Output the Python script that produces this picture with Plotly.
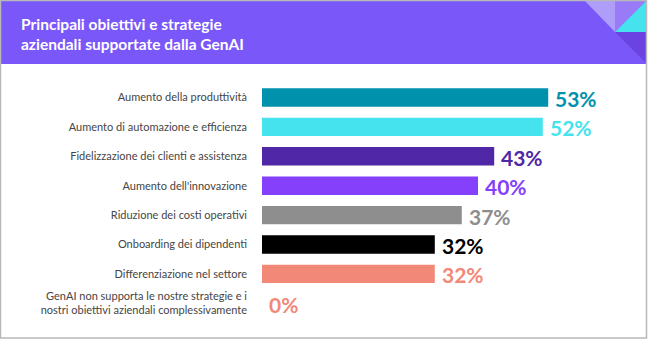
import plotly.graph_objects as go

# Survey results: share of respondents per business objective
categories = [
    "Aumento della produttività",
    "Aumento di automazione e efficienza",
    "Fidelizzazione dei clienti e assistenza",
    "Aumento dell'innovazione",
    "Riduzione dei costi operativi",
    "Onboarding dei dipendenti",
    "Differenziazione nel settore",
    "GenAI non supporta le nostre strategie e i<br>nostri obiettivi aziendali complessivamente",
]
values = [53, 52, 43, 40, 37, 32, 32, 0]
value_labels = ["53%", "52%", "43%", "40%", "37%", "32%", "32%", "0%"]

bar_colors = ["#0091ad", "#45e3ee", "#5027a6", "#8440fa", "#8e8e8e", "#000000", "#f28878", "#f28878"]

W, H = 648, 340
ML, MR, MT, MB = 262, 0, 82, 22
PW, PH = W - ML - MR, H - MT - MB


def px2x(px):
    return (px - ML) / PW


def px2y(py):
    return 1 - (py - MT) / PH


fig = go.Figure(
    go.Bar(
        x=values,
        y=categories,
        orientation="h",
        marker=dict(color=bar_colors, line=dict(width=0)),
        hoverinfo="skip",
    )
)

# value labels at the end of each bar
for cat, val, lab, col in zip(categories, values, value_labels, bar_colors):
    fig.add_annotation(
        x=val, y=cat, text=lab, showarrow=False,
        xanchor="left", yanchor="middle", xshift=5, yshift=-1,
        font=dict(family="Lato", size=21, color=col, weight="bold"),
    )

shapes = []
# header band
shapes.append(dict(type="rect", xref="paper", yref="paper",
                   x0=px2x(1), x1=px2x(647), y0=px2y(0), y1=px2y(64),
                   fillcolor="#7a57f9", line=dict(width=0), layer="below"))


def tri(points, color):
    path = "M " + " L ".join(f"{px2x(a)},{px2y(b)}" for a, b in points) + " Z"
    return dict(type="path", xref="paper", yref="paper", path=path,
                fillcolor=color, line=dict(width=0), layer="below")


shapes.append(tri([(584, 0), (615, 0), (615, 32)], "#ae9ef9"))
shapes.append(tri([(615, 0), (647, 0), (615, 32)], "#9a7bf7"))
shapes.append(tri([(615, 32), (647, 0), (647, 32)], "#46e2ee"))
shapes.append(tri([(615, 32), (647, 32), (647, 64)], "#6b43e2"))
# outer frame
shapes.append(dict(type="rect", xref="paper", yref="paper",
                   x0=px2x(0.5), x1=px2x(646.5), y0=px2y(0.5), y1=px2y(338),
                   fillcolor="rgba(0,0,0,0)", line=dict(color="#b8b8b8", width=1.5)))

fig.update_layout(shapes=shapes)

fig.add_annotation(
    xref="paper", yref="paper", x=px2x(19), y=px2y(34),
    text="Principali obiettivi e strategie<br>aziendali supportate dalla GenAI",
    showarrow=False, xanchor="left", yanchor="middle", align="left",
    font=dict(family="Lato", size=15.5, color="#ffffff", weight="bold"),
)

fig.update_layout(
    width=W, height=H,
    margin=dict(l=ML, r=MR, t=MT, b=MB),
    paper_bgcolor="#ffffff", plot_bgcolor="#ffffff",
    bargap=0.375,
    showlegend=False,
    xaxis=dict(range=[0, PW / 5.4], visible=False, fixedrange=True),
    yaxis=dict(
        autorange="reversed", showgrid=False, zeroline=False, showline=False,
        ticks="", ticklabelstandoff=14,
        tickfont=dict(family="Lato", size=11, color="#454545"),
        fixedrange=True,
    ),
)

fig.write_html("out.html", config={"displayModeBar": False})
